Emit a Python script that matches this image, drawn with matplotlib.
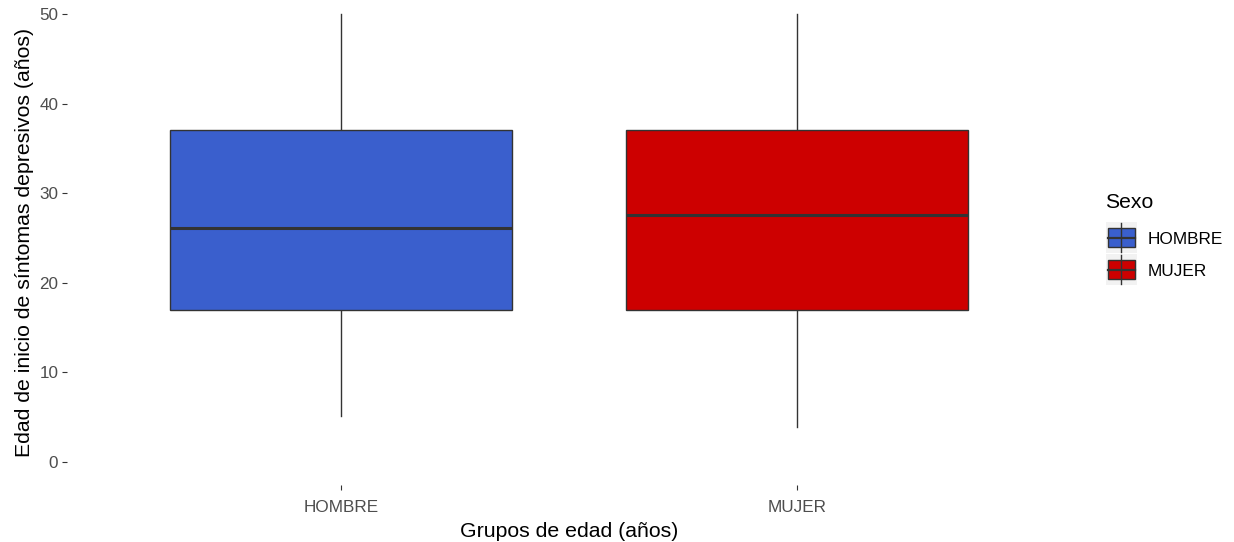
import matplotlib
matplotlib.use("Agg")
import matplotlib.pyplot as plt
from matplotlib.patches import Rectangle
from matplotlib.lines import Line2D

plt.rcParams['font.family'] = ['Liberation Sans', 'DejaVu Sans']

# Data
grupos = ["HOMBRE", "MUJER"]
q1 = [17.0, 17.0]
mediana = [26.1, 27.6]
q3 = [37.1, 37.1]
bigote_inf = [5.1, 3.9]
bigote_sup = [50.0, 50.0]
colores = ["#3A5FCD", "#CD0000"]
y_ticks = [0, 10, 20, 30, 40, 50]

W, H = 1234, 542
fig = plt.figure(figsize=(W / 100, H / 100), dpi=100)
fig.patch.set_facecolor("white")

def fx(px):
    return px / W

def fy(py):
    return 1 - py / H

ax = fig.add_axes([fx(67.4), fy(485), fx(1070.6) - fx(67.4), fy(0) - fy(485)])

stats = []
for i, g in enumerate(grupos):
    stats.append(dict(label=g, q1=q1[i], med=mediana[i], q3=q3[i],
                      whislo=bigote_inf[i], whishi=bigote_sup[i], fliers=[]))

bp = ax.bxp(stats, positions=[1, 2], widths=0.75, patch_artist=True,
            showcaps=False, showfliers=False,
            boxprops=dict(edgecolor="#333333", linewidth=1.0),
            medianprops=dict(color="#333333", linewidth=2.2),
            whiskerprops=dict(color="#333333", linewidth=1.0))
for patch, c in zip(bp["boxes"], colores):
    patch.set_facecolor(c)
    patch.set_zorder(2)
for w in bp["whiskers"]:
    w.set_zorder(1)

ax.set_xlim(0.4, 2.6)
ax.set_ylim(-2.57, 51.56)
ax.set_yticks(y_ticks)
ax.set_xticks([1, 2])
ax.set_xticklabels(grupos)
for s in ax.spines.values():
    s.set_visible(False)
ax.tick_params(axis="both", colors="#333333", length=3.5, width=0.8,
               labelcolor="#4D4D4D", labelsize=12.3)
ax.tick_params(axis="x", pad=7)
ax.tick_params(axis="y", pad=3)
ax.set_xlabel("Grupos de edad (años)", fontsize=15.3, color="black", labelpad=5)
ax.set_ylabel("Edad de inicio de síntomas depresivos (años)", fontsize=15.3,
              color="black", labelpad=4)

# Legend
fig.text(fx(1105), fy(202), "Sexo", fontsize=15.2, va="center", ha="left")
key_top = [222, 254]
for i, g in enumerate(grupos):
    t = key_top[i]
    fig.add_artist(Rectangle((fx(1106), fy(t + 31)), fx(31), fy(0) - fy(31),
                             transform=fig.transFigure, facecolor="#F2F2F2",
                             edgecolor="none"))
    cx = 1121
    fig.add_artist(Line2D([fx(cx), fx(cx)], [fy(t + 1), fy(t + 30)],
                          transform=fig.transFigure, color="#333333", lw=1.0))
    fig.add_artist(Rectangle((fx(1107.5), fy(t + 25)), fx(27), fy(0) - fy(19),
                             transform=fig.transFigure, facecolor=colores[i],
                             edgecolor="#333333", lw=1.0))
    fig.add_artist(Line2D([fx(1107.5), fx(1134.5)], [fy(t + 15.5), fy(t + 15.5)],
                          transform=fig.transFigure, color="#333333", lw=1.6))
    fig.text(fx(1148), fy(t + 17), g, fontsize=12.4, va="center", ha="left",
             color="black")

fig.savefig("out.png", dpi=100)
